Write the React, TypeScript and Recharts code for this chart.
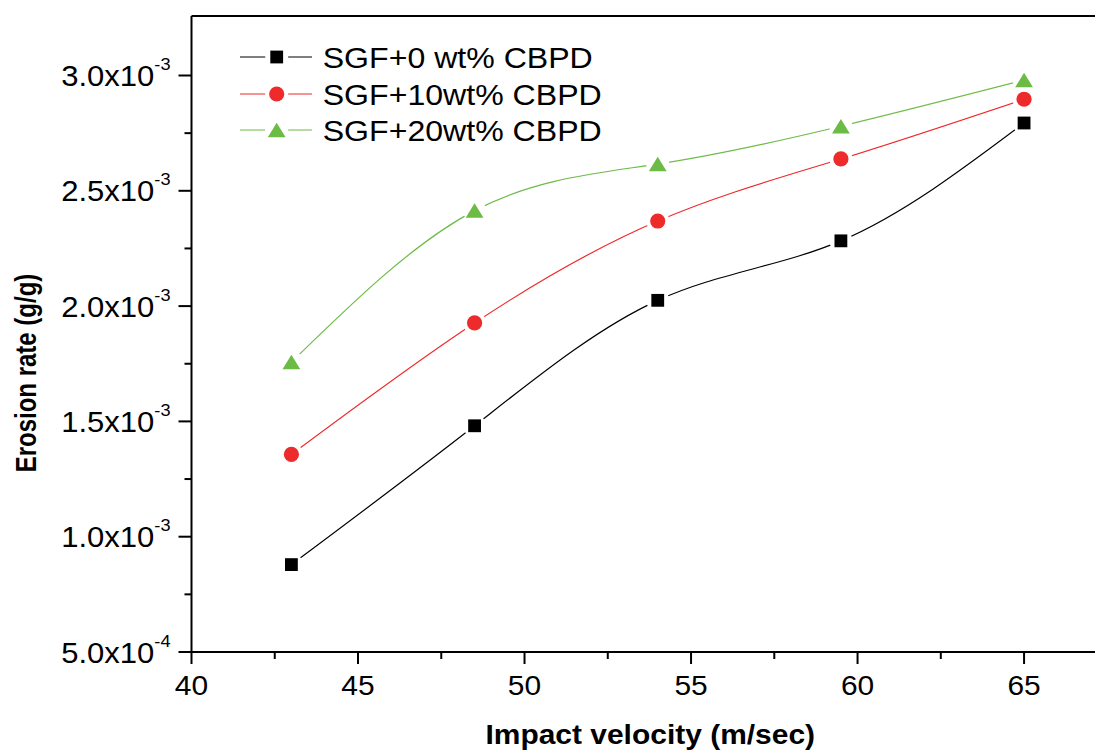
import React from 'react';
import { LineChart, Line, XAxis, YAxis, Legend } from 'recharts';

const velocities = [43, 48.5, 54, 59.5, 65];
const sgf0 = [0.879e-3, 1.481e-3, 2.025e-3, 2.283e-3, 2.794e-3];
const sgf10 = [1.357e-3, 1.927e-3, 2.369e-3, 2.638e-3, 2.897e-3];
const sgf20 = [1.757e-3, 2.414e-3, 2.616e-3, 2.78e-3, 2.98e-3];
const seriesNames = ['SGF+0 wt% CBPD', 'SGF+10wt% CBPD', 'SGF+20wt% CBPD'];
const seriesKeys = ['s0', 's10', 's20'];
const seriesColors = ['#000000', '#ee2b2b', '#6cbb45'];
const seriesShapes = ['square', 'circle', 'triangle'];

const xTicks = [40, 42.5, 45, 47.5, 50, 52.5, 55, 57.5, 60, 62.5, 65];
const xMajorTicks = [40, 45, 50, 55, 60, 65];
const yTicks = [5e-4, 7.5e-4, 1e-3, 1.25e-3, 1.5e-3, 1.75e-3, 2e-3, 2.25e-3, 2.5e-3, 2.75e-3, 3e-3];
const yMajorTicks = [5e-4, 1e-3, 1.5e-3, 2e-3, 2.5e-3, 3e-3];
const yMantissas = ['5.0', '1.0', '1.5', '2.0', '2.5', '3.0'];
const yExponents = ['-4', '-3', '-3', '-3', '-3', '-3'];

const xTitle = 'Impact velocity (m/sec)';
const yTitle = 'Erosion rate (g/g)';

const FONT = '"Liberation Sans", Arial, Helvetica, sans-serif';
const SX = 1.07;

const data = velocities.map((v, i) => ({ v, s0: sgf0[i], s10: sgf10[i], s20: sgf20[i] }));

function Marker({ shape, cx, cy, color, backdrop }: any) {
  const bg = backdrop ? <circle cx={cx} cy={cy} r={11.5} fill="#ffffff" /> : null;
  if (shape === 'square') {
    return (
      <g>
        {bg}
        <rect x={cx - 6.4} y={cy - 6.4} width={12.8} height={12.8} fill={color} />
      </g>
    );
  }
  if (shape === 'circle') {
    return (
      <g>
        {bg}
        <circle cx={cx} cy={cy} r={7.6} fill={color} />
      </g>
    );
  }
  return (
    <g>
      {bg}
      <polygon
        points={`${cx},${cy - 7.3} ${cx - 8.9},${cy + 7.2} ${cx + 8.9},${cy + 7.2}`}
        fill={color}
      />
    </g>
  );
}

const makeDot = (idx: number) => (props: any) => {
  const { cx, cy, index } = props;
  if (cx == null || cy == null) return <g key={`d${idx}-${index}`} />;
  return (
    <g key={`d${idx}-${index}`}>
      <Marker shape={seriesShapes[idx]} cx={cx} cy={cy} color={seriesColors[idx]} backdrop />
    </g>
  );
};

const XTick = (props: any) => {
  const { x, y, payload } = props;
  const v = payload.value;
  const major = xMajorTicks.some((m) => Math.abs(m - v) < 1e-9);
  return (
    <g>
      <line x1={x} x2={x} y1={y} y2={y + (major ? 12 : 7)} stroke="#000" strokeWidth={2} />
      {major && (
        <text
          transform={`translate(${x} ${y + 43}) scale(${SX} 1)`}
          textAnchor="middle"
          fontSize={28}
          fontFamily={FONT}
          fill="#000"
        >
          {v}
        </text>
      )}
    </g>
  );
};

const TopTick = (props: any) => {
  const { x, y } = props;
  return <line x1={x} x2={x} y1={y} y2={y + 5} stroke="#000" strokeWidth={1.5} />;
};

const YTick = (props: any) => {
  const { x, y, payload } = props;
  const v = payload.value;
  const idx = yMajorTicks.findIndex((m) => Math.abs(m - v) < 1e-12);
  const major = idx >= 0;
  return (
    <g>
      <line x1={x - (major ? 13 : 7)} x2={x} y1={y} y2={y} stroke="#000" strokeWidth={2} />
      {major && (
        <text
          transform={`translate(${x - 21} ${y + 10.5}) scale(${SX} 1)`}
          textAnchor="end"
          fontSize={29}
          fontFamily={FONT}
          fill="#000"
        >
          <tspan>{yMantissas[idx]}x10</tspan>
          <tspan dy={-16} fontSize={17}>{yExponents[idx]}</tspan>
        </text>
      )}
    </g>
  );
};

const LegendContent = () => {
  const rows = [27, 64, 100];
  return (
    <svg width={440} height={130} style={{ overflow: 'visible' }}>
      {seriesNames.map((name, i) => (
        <g key={name}>
          <line x1={10} x2={82} y1={rows[i]} y2={rows[i]} stroke={seriesColors[i]} strokeWidth={1.2} />
          <Marker shape={seriesShapes[i]} cx={46.7} cy={rows[i]} color={seriesColors[i]} backdrop />
          <text
            transform={`translate(92.7 ${rows[i] + 10.8}) scale(${SX} 1)`}
            fontSize={30}
            fontFamily={FONT}
            fill="#000"
          >
            {name}
          </text>
        </g>
      ))}
    </svg>
  );
};

export default function App() {
  return (
    <div style={{ position: 'absolute', left: 0, top: 0, width: 1095, height: 750, background: '#fff' }}>
      <LineChart
        width={1095}
        height={750}
        data={data}
        margin={{ top: 15, right: 0, bottom: 38, left: 71.5 }}
      >
        <XAxis
          dataKey="v"
          type="number"
          domain={[40, 67.13]}
          allowDataOverflow
          ticks={xTicks}
          interval={0}
          tickSize={0}
          tickMargin={0}
          tickLine={false}
          tick={<XTick />}
          height={60}
          axisLine={{ stroke: '#000', strokeWidth: 2 }}
          label={(p: any) => {
            const vb = p.viewBox || { x: 191.5, y: 652, width: 903.5 };
            const cx = vb.x + vb.width / 2 + 7;
            return (
              <text
                transform={`translate(${cx} ${vb.y + 92}) scale(${SX} 1)`}
                textAnchor="middle"
                fontSize={28}
                fontWeight="bold"
                fontFamily={FONT}
                fill="#000"
              >
                {xTitle}
              </text>
            );
          }}
        />
        <XAxis
          xAxisId="top"
          orientation="top"
          type="number"
          domain={[40, 67.13]}
          allowDataOverflow
          ticks={xTicks}
          interval={0}
          tickSize={0}
          tickMargin={0}
          tickLine={false}
          tick={<TopTick />}
          height={1}
          axisLine={{ stroke: '#000', strokeWidth: 2 }}
        />
        <YAxis
          type="number"
          domain={[5e-4, 3.258e-3]}
          allowDataOverflow
          ticks={yTicks}
          interval={0}
          tickSize={0}
          tickMargin={0}
          tickLine={false}
          tick={<YTick />}
          width={120}
          axisLine={{ stroke: '#000', strokeWidth: 2 }}
          label={() => {
            const cx = 26;
            const cy = 373;
            return (
              <text
                transform={`translate(${cx} ${cy}) scale(1.22 1) rotate(-90)`}
                textAnchor="middle"
                dominantBaseline="central"
                fontSize={24}
                fontWeight="bold"
                fontFamily={FONT}
                fill="#000"
              >
                {yTitle}
              </text>
            );
          }}
        />
        <Legend
          layout="vertical"
          align="center"
          verticalAlign="middle"
          content={<LegendContent />}
          wrapperStyle={{ position: 'absolute', left: 230, top: 30, width: 440, height: 130 }}
        />
        {seriesKeys.map((k, i) => (
          <Line
            key={k}
            dataKey={k}
            name={seriesNames[i]}
            type="natural"
            stroke={seriesColors[i]}
            strokeWidth={1.2}
            dot={makeDot(i)}
            activeDot={false}
            isAnimationActive={false}
          />
        ))}
      </LineChart>
    </div>
  );
}
